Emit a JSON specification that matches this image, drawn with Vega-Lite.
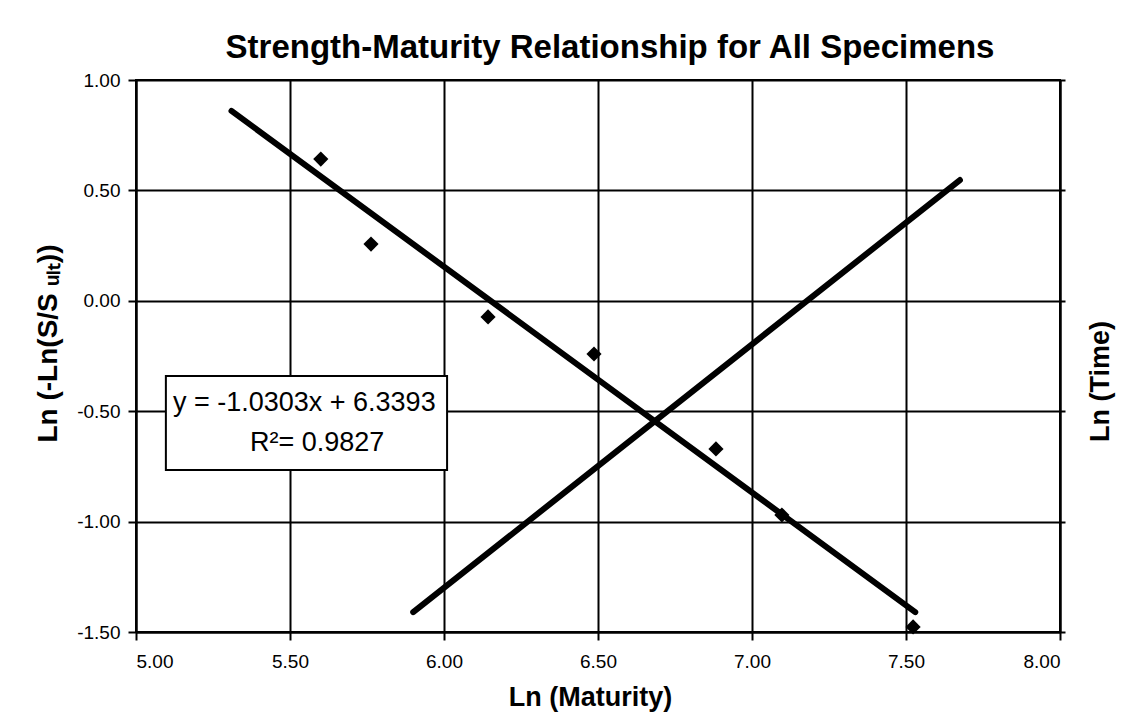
{
  "$schema": "https://vega.github.io/schema/vega-lite/v6.json",
  "width": 924,
  "height": 552,
  "autosize": {"type": "none"},
  "padding": {"left": 136, "top": 80, "right": 85, "bottom": 85},
  "background": "white",
  "title": {"text": "Strength-Maturity Relationship for All Specimens", "font": "Liberation Sans", "fontSize": 33, "fontWeight": "bold", "color": "black", "anchor": "middle", "dx": 12, "dy": 45, "offset": 25, "baseline": "alphabetic"},
  "config": {"view": {"stroke": "black", "strokeWidth": 2}},
  "datasets": {
    "points": [
      {"x": 5.60, "y": 0.642},
      {"x": 5.763, "y": 0.257},
      {"x": 6.143, "y": -0.073},
      {"x": 6.487, "y": -0.241},
      {"x": 6.883, "y": -0.671},
      {"x": 7.097, "y": -0.970},
      {"x": 7.523, "y": -1.477}
    ],
    "trend": [{"x": 5.31, "y": 0.86}, {"x": 7.53, "y": -1.41}],
    "time": [{"x": 5.90, "y": -1.41}, {"x": 7.675, "y": 0.547}],
    "box": [{"x": 5.097, "x2": 6.01, "y": -0.341, "y2": -0.766}],
    "labels": [
      {"x": 5.12, "y": -0.463, "text": "y = -1.0303x + 6.3393"},
      {"x": 5.37, "y": -0.644, "text": "R²= 0.9827"}
    ]
  },
  "resolve": {"axis": {"y": "independent"}},
  "encoding": {
    "x": {"field": "x", "type": "quantitative", "scale": {"domain": [5, 8], "nice": false, "zero": false},
      "axis": {"values": [5, 5.5, 6, 6.5, 7, 7.5, 8], "labelExpr": "format(datum.value, '.2f')", "labelFont": "Liberation Sans", "labelFontSize": 19, "labelColor": "black", "labelPadding": 12,
        "tickSize": 8, "tickWidth": 2, "tickColor": "black", "domainColor": "black", "domainWidth": 2,
        "grid": true, "gridColor": "black", "gridWidth": 2, "gridOpacity": 1,
        "title": "Ln (Maturity)", "titleFont": "Liberation Sans", "titleFontSize": 27, "titleFontWeight": "bold", "titleColor": "black", "titleY": 73, "titleX": 454, "titleBaseline": "alphabetic"}}
  },
  "layer": [
    {
      "data": {"name": "points"},
      "mark": {"type": "point", "shape": "diamond", "filled": true, "color": "black", "size": 230, "opacity": 1},
      "encoding": {
        "y": {"field": "y", "type": "quantitative", "scale": {"domain": [-1.5, 1], "nice": false, "zero": false},
          "axis": {"orient": "left", "values": [-1.5, -1, -0.5, 0, 0.5, 1], "labelExpr": "replace(format(datum.value, '.2f'), '−', '-')", "labelFont": "Liberation Sans", "labelFontSize": 19, "labelColor": "black", "labelPadding": 8,
            "tickSize": 8, "tickWidth": 2, "tickColor": "black", "domainColor": "black", "domainWidth": 2,
            "grid": true, "gridColor": "black", "gridWidth": 2, "gridOpacity": 1,
            "title": "Ln (-Ln(S/S ᵤₗₜ))", "titleFont": "Liberation Sans", "titleFontSize": 28, "titleFontWeight": "bold", "titleColor": "black", "titleAngle": 270, "titleX": -88, "titleY": 263, "titleBaseline": "middle"}}
      }
    },
    {
      "data": {"name": "box"},
      "mark": {"type": "rect", "fill": "white", "stroke": "black", "strokeWidth": 2},
      "encoding": {
        "x2": {"field": "x2"},
        "y": {"field": "y", "type": "quantitative", "axis": null},
        "y2": {"field": "y2"}
      }
    },
    {
      "data": {"name": "labels"},
      "mark": {"type": "text", "align": "left", "baseline": "middle", "font": "Liberation Sans", "fontSize": 27, "color": "black"},
      "encoding": {
        "y": {"field": "y", "type": "quantitative", "axis": null},
        "text": {"field": "text"}
      }
    },
    {
      "data": {"name": "trend"},
      "mark": {"type": "line", "color": "black", "strokeWidth": 6, "strokeCap": "round"},
      "encoding": {
        "y": {"field": "y", "type": "quantitative",
          "axis": {"orient": "right", "values": [-1.5, -1, -0.5, 0, 0.5, 1], "labels": false, "tickSize": 5, "tickWidth": 2, "tickColor": "black", "domainColor": "black", "domainWidth": 2, "grid": false,
            "title": "Ln (Time)", "titleFont": "Liberation Sans", "titleFontSize": 27, "titleFontWeight": "bold", "titleColor": "black", "titleAngle": 270, "titleX": 40, "titleY": 301, "titleBaseline": "middle"}}
      }
    },
    {
      "data": {"name": "time"},
      "mark": {"type": "line", "color": "black", "strokeWidth": 6, "strokeCap": "round"},
      "encoding": {
        "y": {"field": "y", "type": "quantitative", "axis": null}
      }
    }
  ]
}
